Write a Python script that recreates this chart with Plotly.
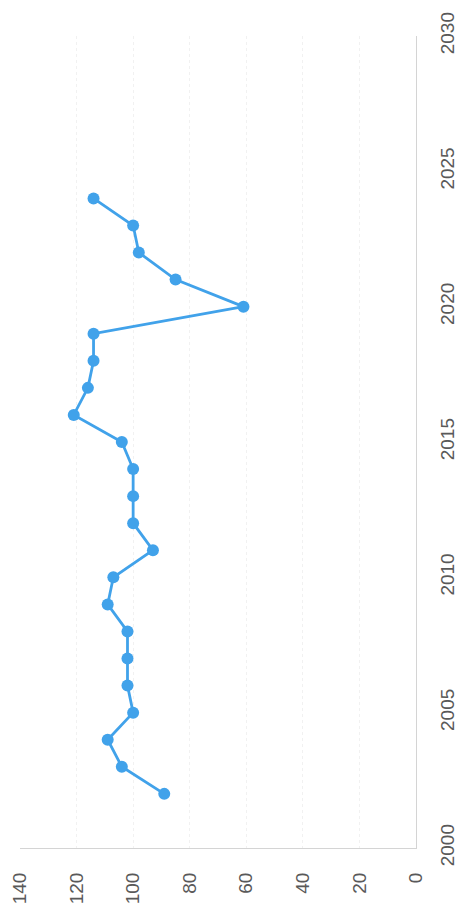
import plotly.graph_objects as go

# Annual index values, 2002-2024
years = list(range(2002, 2025))
values = [89, 104, 109, 100, 102, 102, 102, 109, 107, 93, 100, 100, 100, 104,
          121, 116, 114, 114, 61, 85, 98, 100, 114]

value_ticks = [0, 20, 40, 60, 80, 100, 120, 140]
year_ticks = [2000, 2005, 2010, 2015, 2020, 2025, 2030]

line_color = "#41A2EA"
text_color = "#595959"
font_family = "Liberation Sans Narrow, Arial Narrow, Liberation Sans, sans-serif"

fig = go.Figure(
    go.Scatter(
        x=values,
        y=years,
        mode="lines+markers",
        line=dict(color=line_color, width=2.8),
        marker=dict(color=line_color, size=12),
        hoverinfo="skip",
    )
)

fig.update_layout(
    width=460,
    height=907,
    margin=dict(l=20, r=44, t=36, b=59),
    paper_bgcolor="white",
    plot_bgcolor="white",
    showlegend=False,
    font=dict(family=font_family, color=text_color, size=19),
)

# Value axis along the bottom, increasing to the left
fig.update_xaxes(
    range=[140, 0],
    tickvals=value_ticks,
    ticktext=[str(v) for v in value_ticks],
    tickangle=-90,
    ticklabelstandoff=16,
    automargin=False,
    showgrid=True,
    gridcolor="#F1F1F1",
    gridwidth=1,
    griddash="dot",
    zeroline=False,
    showline=True,
    linecolor="#D4D4D4",
    linewidth=1,
    ticks="",
)

# Year axis on the right, increasing upward
fig.update_yaxes(
    range=[2000, 2030],
    side="right",
    tickvals=year_ticks,
    ticktext=[str(y) for y in year_ticks],
    tickangle=-90,
    ticklabelstandoff=14,
    automargin=False,
    showgrid=False,
    zeroline=False,
    showline=True,
    linecolor="#D4D4D4",
    linewidth=1,
    ticks="",
)

fig.write_html("out.html")
